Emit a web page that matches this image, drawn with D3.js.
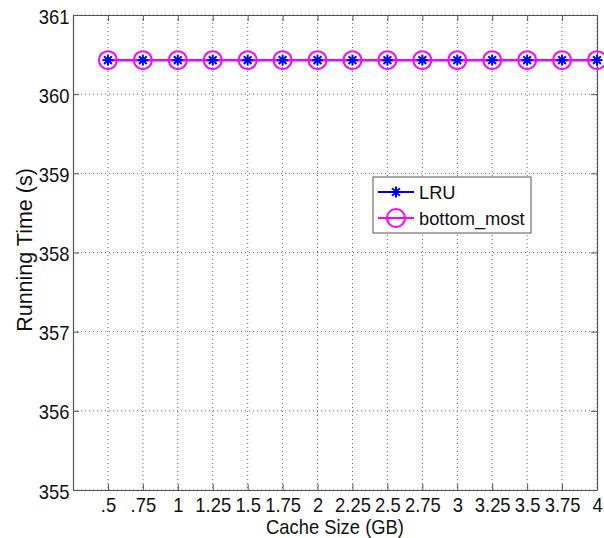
<!DOCTYPE html>
<html><head><meta charset="utf-8">
<script src="https://cdn.jsdelivr.net/npm/d3@7"></script>
<style>body{margin:0;background:#fff;}svg{display:block;font-family:"Liberation Sans",Arial,sans-serif;}</style>
</head><body>
<script>
const cacheSizes = [0.5,0.75,1,1.25,1.5,1.75,2,2.25,2.5,2.75,3,3.25,3.5,3.75,4];
const xTickLabels = [".5",".75","1","1.25","1.5","1.75","2","2.25","2.5","2.75","3","3.25","3.5","3.75","4"];
const lruValues = [360.43,360.43,360.43,360.43,360.43,360.43,360.43,360.43,360.43,360.43,360.43,360.43,360.43,360.43,360.43];
const bottomMostValues = [360.43,360.43,360.43,360.43,360.43,360.43,360.43,360.43,360.43,360.43,360.43,360.43,360.43,360.43,360.43];
const yTicks = [355,356,357,358,359,360,361];
const seriesNames = ["LRU","bottom_most"];

const W=604,H=538;
const FS=20, SX=0.92;
const svg=d3.select("body").append("svg").attr("width",W).attr("height",H);
const L=73,R=597,T=15,B=490;
const x=d3.scaleLinear().domain([0.25,4]).range([L,R]);
const y=d3.scaleLinear().domain([355,361]).range([B,T]);

function squeeze(sel){
  sel.attr("transform",function(){
    const tx=+this.getAttribute("x")||0;
    return `translate(${tx},0) scale(${SX},1) translate(${-tx},0)`;
  });
}

// grid
const g=svg.append("g");
g.selectAll(".vg").data(cacheSizes).enter().append("line")
 .attr("x1",d=>x(d)).attr("x2",d=>x(d)).attr("y1",T).attr("y2",B)
 .attr("stroke","#444").attr("stroke-width",0.8).attr("stroke-dasharray","1,3");
g.selectAll(".hg").data(yTicks).enter().append("line")
 .attr("y1",d=>y(d)).attr("y2",d=>y(d)).attr("x1",L).attr("x2",R)
 .attr("stroke","#444").attr("stroke-width",0.8).attr("stroke-dasharray","1,3");

// axes
const xAxis=d3.axisBottom(x).tickValues(cacheSizes).tickFormat((d,i)=>xTickLabels[i]).tickSizeInner(-6).tickSizeOuter(0).tickPadding(10);
const yAxis=d3.axisLeft(y).tickValues(yTicks).tickFormat(d3.format("d")).tickSizeInner(-6).tickSizeOuter(0).tickPadding(3);
const xa=svg.append("g").attr("transform",`translate(0,${B})`).call(xAxis);
const ya=svg.append("g").attr("transform",`translate(${L},0)`).call(yAxis);
const xt=svg.append("g").attr("transform",`translate(0,${T})`).call(d3.axisTop(x).tickValues(cacheSizes).tickFormat("").tickSizeInner(-6).tickSizeOuter(0));
const yr=svg.append("g").attr("transform",`translate(${R},0)`).call(d3.axisRight(y).tickValues(yTicks).tickFormat("").tickSizeInner(-6).tickSizeOuter(0));
[xa,ya,xt,yr].forEach(a=>{
  a.select(".domain").attr("stroke","#555").attr("stroke-width",1.2);
  a.selectAll(".tick line").attr("stroke","#555");
  a.selectAll("text").attr("fill","#111").attr("font-size",FS).attr("font-family","Liberation Sans, Arial, sans-serif");
});
xa.selectAll("text").attr("y",22).attr("dy",0);
ya.selectAll("text").attr("x",-3.5).attr("dy","0.4em");
squeeze(xa.selectAll("text"));
squeeze(ya.selectAll("text"));

// labels
const xl=svg.append("text").attr("x",(L+R)/2).attr("y",534).attr("text-anchor","middle")
 .attr("font-size",FS).attr("fill","#111").text("Cache Size (GB)");
squeeze(xl);
svg.append("text").attr("transform",`translate(32,${250}) rotate(-90)`).attr("text-anchor","middle")
 .attr("font-size",21.5).attr("fill","#111").text("Running Time (s)");

// series
const line=d3.line().x((d,i)=>x(cacheSizes[i])).y(d=>y(d));
function star(sel,cx,cy,r,col){
  const gg=sel.append("g").attr("transform",`translate(${cx},${cy})`);
  for(let a=0;a<4;a++){
    const ang=a*Math.PI/4;
    gg.append("line").attr("x1",-r*Math.cos(ang)).attr("y1",-r*Math.sin(ang))
      .attr("x2",r*Math.cos(ang)).attr("y2",r*Math.sin(ang))
      .attr("stroke",col).attr("stroke-width",2);
  }
}
svg.append("path").datum(lruValues).attr("d",line).attr("fill","none").attr("stroke","#0000ff").attr("stroke-width",2);
svg.append("path").datum(bottomMostValues).attr("d",line).attr("fill","none").attr("stroke","#ff00ff").attr("stroke-width",2);
lruValues.forEach((v,i)=>star(svg,x(cacheSizes[i]),y(v),5.5,"#0000ff"));
svg.selectAll(".circ").data(bottomMostValues).enter().append("circle")
 .attr("cx",(d,i)=>x(cacheSizes[i])).attr("cy",d=>y(d)).attr("r",9)
 .attr("fill","none").attr("stroke","#ff00ff").attr("stroke-width",2);

// legend
const lg=svg.append("g");
lg.append("rect").attr("x",373).attr("y",177).attr("width",158).attr("height",56)
 .attr("fill","#fff").attr("stroke","#555").attr("stroke-width",1);
lg.append("line").attr("x1",378).attr("x2",414).attr("y1",192).attr("y2",192).attr("stroke","#0000ff").attr("stroke-width",2);
star(lg,396,192,5.5,"#0000ff");
lg.append("line").attr("x1",378).attr("x2",414).attr("y1",218).attr("y2",218).attr("stroke","#ff00ff").attr("stroke-width",2);
lg.append("circle").attr("cx",396).attr("cy",218).attr("r",9).attr("fill","none").attr("stroke","#ff00ff").attr("stroke-width",2);
lg.append("text").attr("x",419).attr("y",199).attr("font-size",18.3).attr("fill","#111").text(seriesNames[0]);
lg.append("text").attr("x",419).attr("y",225).attr("font-size",18.3).attr("fill","#111").text(seriesNames[1]);
</script>
</body></html>
